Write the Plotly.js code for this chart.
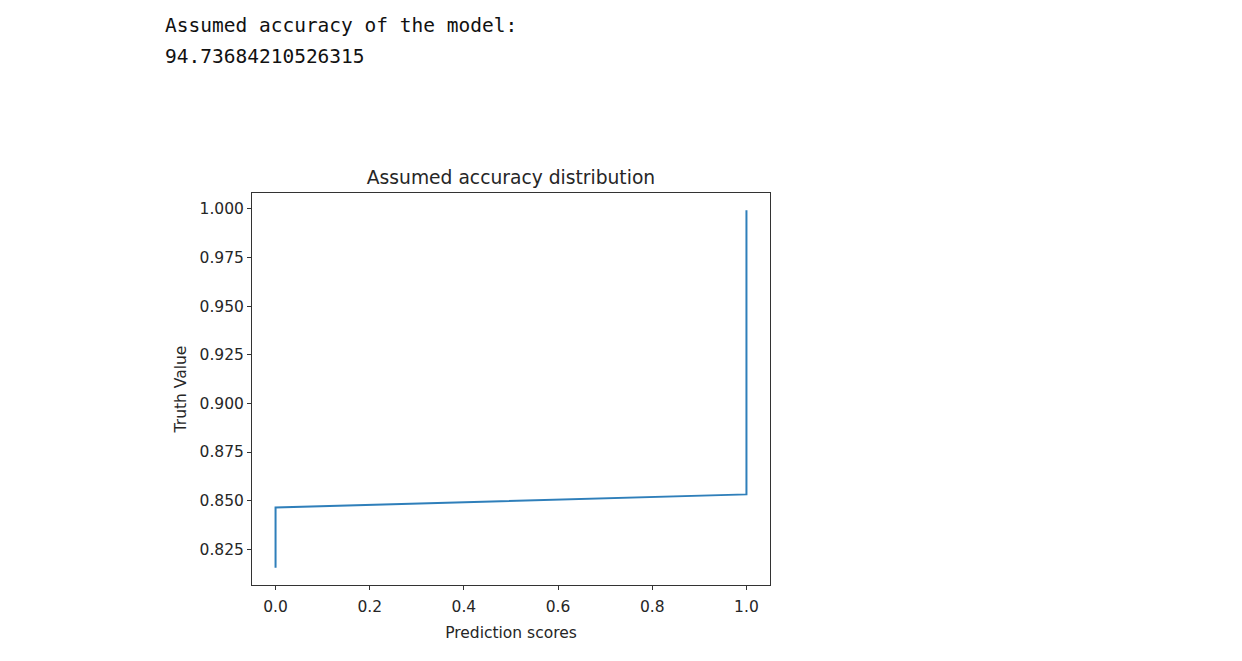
<!DOCTYPE html>
<html>
<head>
<meta charset="utf-8">
<script src="https://cdn.plot.ly/plotly-3.0.1.min.js"></script>
<style>
  html, body { margin: 0; padding: 0; background: #fff; }
  #chart { width: 1242px; height: 661px; }
</style>
</head>
<body>
<div id="chart"></div>
<script>
// Data
const predictionScores = [0.0, 0.0, 1.0, 1.0];
const truthValues = [0.8155, 0.8465, 0.8532, 0.9993];
const xTickValues = [0.0, 0.2, 0.4, 0.6, 0.8, 1.0];
const xTickLabels = ['0.0', '0.2', '0.4', '0.6', '0.8', '1.0'];
const yTickValues = [0.825, 0.85, 0.875, 0.9, 0.925, 0.95, 0.975, 1.0];
const yTickLabels = ['0.825', '0.850', '0.875', '0.900', '0.925', '0.950', '0.975', '1.000'];
const headerLine1 = 'Assumed accuracy of the model:';
const headerLine2 = '94.73684210526315';

const mono = 'DejaVu Sans Mono, Liberation Mono, monospace';
const sans = 'DejaVu Sans, Liberation Sans, sans-serif';

const trace = {
  x: predictionScores,
  y: truthValues,
  type: 'scatter',
  mode: 'lines',
  line: { color: '#2f7fba', width: 2 },
  hoverinfo: 'x+y'
};

const L = 252, R = 770, T = 193, B = 585, W = 1242, H = 661;
const pw = R - L, ph = B - T;
function px2x(px) { return (px - L) / pw; }
function py2y(py) { return (B - py) / ph; }

const tickFontSize = 15.5;
const titleFontSize = 18.7;

const layout = {
  width: W,
  height: H,
  margin: { l: L, r: W - R, t: T, b: H - B, pad: 0 },
  paper_bgcolor: '#ffffff',
  plot_bgcolor: '#ffffff',
  showlegend: false,
  font: { family: sans, color: '#262626', size: 12 },
  title: {
    text: 'Assumed accuracy distribution',
    font: { family: sans, size: titleFontSize, color: '#262626' },
    xref: 'paper', x: 0.5, xanchor: 'center',
    yref: 'container', y: 1 - 177 / H, yanchor: 'middle'
  },
  xaxis: {
    range: [-0.05, 1.05],
    tickvals: xTickValues,
    ticktext: xTickLabels,
    ticks: 'outside', ticklen: 4, tickwidth: 1, tickcolor: '#333',
    ticklabelstandoff: 3,
    showline: true, mirror: true, linecolor: '#333', linewidth: 1,
    showgrid: false, zeroline: false,
    tickfont: { family: sans, size: tickFontSize, color: '#262626' },
    title: { text: 'Prediction scores', font: { family: sans, size: tickFontSize, color: '#262626' }, standoff: 12 },
    automargin: false
  },
  yaxis: {
    range: [0.8066, 1.0082],
    tickvals: yTickValues,
    ticktext: yTickLabels,
    ticks: 'outside', ticklen: 4, tickwidth: 1, tickcolor: '#333',
    showline: true, mirror: true, linecolor: '#333', linewidth: 1,
    showgrid: false, zeroline: false,
    tickfont: { family: sans, size: tickFontSize, color: '#262626' },
    title: { text: 'Truth Value', font: { family: sans, size: tickFontSize, color: '#262626' }, standoff: 9 },
    automargin: false
  },
  annotations: [
    {
      text: headerLine1, showarrow: false,
      xref: 'paper', yref: 'paper',
      x: px2x(163), y: py2y(25), xanchor: 'left', yanchor: 'middle',
      font: { family: mono, size: 19.5, color: '#111' }
    },
    {
      text: headerLine2, showarrow: false,
      xref: 'paper', yref: 'paper',
      x: px2x(163), y: py2y(56), xanchor: 'left', yanchor: 'middle',
      font: { family: mono, size: 19.5, color: '#111' }
    }
  ]
};

Plotly.newPlot('chart', [trace], layout, { displayModeBar: false });
</script>
</body>
</html>
